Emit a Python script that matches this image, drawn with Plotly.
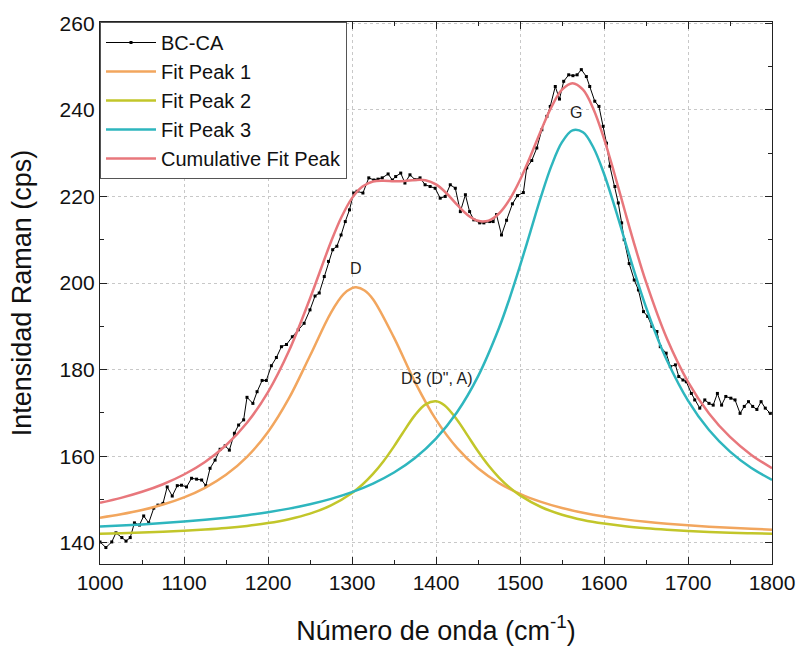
import plotly.graph_objects as go

# Raw spectrum BC-CA
raw_x = [1000,1007,1014,1019,1026,1031,1036,1041,1047,1052,1058,1064,1069,1075,1080,1086,1092,1097,1103,1109,
         1115,1121,1126,1131,1137,1143,1149,1154,1160,1165,1171,1175,1182,1187,1193,1198,1204,1210,1216,1222,
         1229,1236,1243,1250,1256,1261,1267,1272,1277,1282,1287,1292,1297,1302,1306,1313,1320,1326,1331,1336,
         1343,1348,1352,1358,1363,1369,1375,1381,1387,1393,1399,1405,1411,1417,1423,1429,1435,1440,1445,1452,
         1457,1464,1468,1472,1478,1484,1491,1497,1504,1508,1514,1520,1526,1532,1536,1542,1547,1552,1558,1563,
         1568,1573,1579,1583,1589,1594,1599,1603,1607,1613,1617,1621,1624,1630,1636,1641,1647,1652,1657,1663,
         1667,1674,1679,1685,1689,1694,1698,1704,1708,1714,1720,1725,1730,1735,1740,1745,1751,1756,1762,1767,
         1772,1777,1782,1787,1792,1798]
raw_y = [140.2,138.9,140.2,142.3,141.2,140.4,141.2,144.6,144.1,146.2,144.6,148.0,148.7,149.1,152.9,150.8,153.2,153.3,152.9,154.9,
         154.7,154.5,153.2,157.2,159.1,161.6,162.4,161.4,165.3,167.2,168.4,173.6,172.2,174.9,177.5,177.5,180.9,182.8,185.3,185.8,
         187.6,189.2,190.7,193.8,197.0,197.7,201.5,205.0,207.7,208.5,211.1,214.2,216.9,220.8,221.2,220.8,224.3,223.8,224.0,224.3,
         225.2,223.8,224.6,225.4,223.1,225.0,223.9,224.3,222.7,222.3,221.9,219.6,220.0,222.7,221.9,216.5,220.4,216.5,214.6,213.9,
         213.9,214.2,214.2,215.8,211.1,214.5,218.3,220.2,220.9,226.6,228.3,231.2,235.4,238.5,240.8,245.4,242.5,246.6,248.1,247.9,
         248.1,249.3,247.7,245.4,242.0,240.8,236.2,232.3,227.0,222.3,218.5,213.9,210.0,204.5,200.7,198.4,193.4,192.3,190.0,188.8,
         185.3,183.8,180.7,181.1,178.4,177.6,177.2,174.5,173.0,171.1,173.0,172.2,171.8,174.5,171.8,173.8,173.4,173.0,169.9,171.5,
         172.6,171.5,170.8,172.6,171.1,169.9]

# Fit curves
peak1_x = [1000,1025,1050,1075,1100,1125,1150,1175,1200,1225,1250,1275,1290,1300,1305,1315,1325,1350,1375,1400,
           1425,1450,1475,1500,1525,1550,1575,1600,1625,1650,1675,1700,1725,1750,1775,1800]
peak1_y = [145.8,146.58,147.56,148.83,150.49,152.7,155.7,159.85,165.59,173.4,183.21,193.18,197.43,198.82,199.0,198.29,196.26,187.38,177.12,168.44,
           161.92,157.2,153.79,151.29,149.44,148.03,146.95,146.09,145.41,144.86,144.41,144.03,143.72,143.46,143.23,143.04]

peak2_x = [1000,1025,1050,1075,1100,1125,1150,1175,1200,1225,1250,1275,1300,1312.5,1325,1337.5,1350,1360,1375,1387.5,
           1400,1410,1425,1437.5,1450,1462.5,1475,1487.5,1500,1525,1550,1575,1600,1625,1650,1675,1700,1725,1750,1775,1800]
peak2_y = [142.1,142.22,142.37,142.55,142.77,143.06,143.42,143.9,144.55,145.45,146.73,148.62,151.5,153.47,155.91,158.85,162.28,165.26,169.49,171.97,
           172.67,171.76,168.44,164.81,161.14,157.85,155.07,152.79,150.95,148.27,146.49,145.28,144.43,143.81,143.36,143.01,142.73,142.52,142.34,142.2,142.08]

peak3_x = [1000,1025,1050,1075,1100,1125,1150,1175,1200,1225,1250,1275,1300,1325,1350,1375,1400,1425,1450,1475,
           1487.5,1500,1512.5,1525,1537.5,1550,1562.5,1575,1587.5,1600,1612.5,1625,1637.5,1650,1662.5,1675,1700,1725,1750,1775,1800]
peak3_y = [143.75,143.98,144.25,144.55,144.91,145.32,145.81,146.38,147.06,147.89,148.9,150.14,151.7,153.68,156.23,159.59,164.07,170.14,178.43,189.61,
           196.42,203.95,211.96,219.95,227.12,232.54,235.28,234.83,231.26,225.25,217.76,209.7,201.78,194.43,187.85,182.09,172.83,166.04,161.05,157.33,154.52]

cum_x = [1000,1025,1050,1075,1100,1125,1150,1175,1200,1225,1250,1275,1287.5,1300,1312.5,1325,1337.5,1350,1362.5,1375,
         1387.5,1400,1412.5,1425,1437.5,1450,1462.5,1475,1487.5,1500,1512.5,1525,1537.5,1550,1562.5,1575,1587.5,1600,1612.5,1625,
         1637.5,1650,1675,1700,1725,1750,1775,1800]
cum_y = [149.25,150.38,151.78,153.53,155.77,158.68,162.53,167.73,174.8,184.34,196.44,209.54,215.26,219.62,222.3,223.45,223.61,223.49,223.56,223.8,
         223.74,222.78,220.74,218.1,215.74,214.37,214.43,216.07,219.26,223.79,229.33,235.26,240.7,244.66,246.16,244.66,240.17,233.37,225.19,216.52,
         208.07,200.25,187.11,177.19,169.88,164.45,160.36,157.24]

labels = ["D", 'D3 (D", A)', "G"]
label_x = [1305, 1400, 1567]
label_y = [203.3, 178.0, 239.3]

FONT = "Liberation Sans, Arial, sans-serif"

fig = go.Figure()
fig.add_trace(go.Scatter(x=raw_x, y=raw_y, mode="lines+markers", name="BC-CA",
                         line=dict(color="black", width=1),
                         marker=dict(symbol="square", size=3, color="black")))
fig.add_trace(go.Scatter(x=peak1_x, y=peak1_y, mode="lines", name="Fit Peak 1", line_shape="spline",
                         line=dict(color="#F2A65E", width=2.5)))
fig.add_trace(go.Scatter(x=peak2_x, y=peak2_y, mode="lines", name="Fit Peak 2", line_shape="spline",
                         line=dict(color="#C2C62A", width=2.5)))
fig.add_trace(go.Scatter(x=peak3_x, y=peak3_y, mode="lines", name="Fit Peak 3", line_shape="spline",
                         line=dict(color="#2EB6BE", width=2.5)))
fig.add_trace(go.Scatter(x=cum_x, y=cum_y, mode="lines", name="Cumulative Fit Peak", line_shape="spline",
                         line=dict(color="#E8777C", width=2.5)))

for t, xx, yy in zip(labels, label_x, label_y):
    fig.add_annotation(x=xx, y=yy, text=t, showarrow=False, font=dict(family=FONT, size=16, color="#222"))

axis_common = dict(showline=True, linecolor="#222", linewidth=1.3, mirror="ticks",
                   ticks="inside", ticklen=7, tickwidth=1.3, tickcolor="#222",
                   showgrid=True, gridcolor="#c8c8c8", griddash="dot", gridwidth=1,
                   zeroline=False, automargin=False,
                   minor=dict(ticks="inside", ticklen=4, tickwidth=1.2, tickcolor="#222", showgrid=False))

fig.update_xaxes(range=[1000, 1800], tickvals=[1000,1100,1200,1300,1400,1500,1600,1700,1800],
                 minor_dtick=50,
                 tickfont=dict(family=FONT, size=21, color="#111"),
                 title=dict(text="Número de onda (cm<sup>-1</sup>)", font=dict(family=FONT, size=27, color="#111"), standoff=27),
                 **axis_common)
fig.update_yaxes(range=[135.1, 260.3], tickvals=[140,160,180,200,220,240,260], minor_dtick=10,
                 tickfont=dict(family=FONT, size=21, color="#111"),
                 title=dict(text="Intensidad Raman (cps)", font=dict(family=FONT, size=27, color="#111"), standoff=20),
                 **axis_common)

fig.update_layout(width=800, height=647, margin=dict(l=100, r=28, t=22, b=83),
                  plot_bgcolor="white", paper_bgcolor="white",
                  showlegend=True,
                  legend=dict(x=0, y=1, xanchor="left", yanchor="top", bgcolor="white",
                              bordercolor="#555", borderwidth=1,
                              font=dict(family=FONT, size=20, color="#111"),
                              itemwidth=50))

fig.write_html("out.html")
